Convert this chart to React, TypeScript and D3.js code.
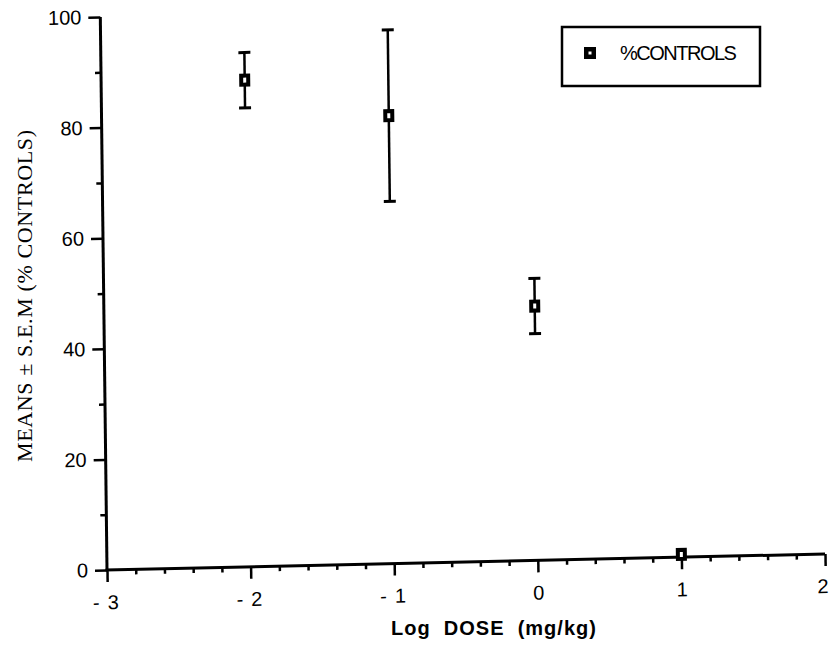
import React, { useRef, useEffect } from 'react';
import * as d3 from 'd3';

// log dose (mg/kg) and % of controls
const doses = [-2, -1, 0, 1];
const means = [88, 81, 46, 0.5];
const sems = [5, 15.5, 5, 0];

const yTicks = [0, 20, 40, 60, 80, 100];
const yMinor = [10, 30, 50, 70, 90];
const xTicks = [-3, -2, -1, 0, 1, 2];
const xTickLabels = ['-\u2009\u20093', '-\u2009\u20092', '-\u2009\u20091', '0', '1', '2'];

const seriesName = '%CONTROLS';
const xTitle = 'Log  DOSE  (mg/kg)';
const yTitle = 'MEANS \u00b1 S.E.M (% CONTROLS)';

const App = () => {
  const svgRef = useRef<SVGSVGElement | null>(null);

  useEffect(() => {
    const svg = d3.select(svgRef.current);
    svg.selectAll('*').remove();

    const data = doses.map((d, i) => ({ dose: d, mean: means[i], sem: sems[i] }));

    const plotW = 718;
    const plotH = 553;

    const x = d3.scaleLinear().domain([-3, 2]).range([0, plotW]);
    const y = d3.scaleLinear().domain([0, 100]).range([0, -plotH]);

    // the scanned page is slightly skewed, so the plot is drawn in a tilted frame
    const g = svg.append('g')
      .attr('transform', 'matrix(1, -0.0223, 0.0121, 1, 107, 570)');

    const font = 'Liberation Sans, Arial, sans-serif';

    // y axis
    const yAxis = g.append('g')
      .call(d3.axisLeft(y).tickValues(yTicks).tickSize(12).tickPadding(7).tickFormat(d3.format('d')));
    yAxis.select('.domain').remove();
    yAxis.selectAll('line').attr('stroke', '#000').attr('stroke-width', 2.5);
    yAxis.selectAll('text')
      .attr('fill', '#000')
      .style('font-family', font)
      .style('font-size', '20px');

    const yAxisMinor = g.append('g')
      .call(d3.axisLeft(y).tickValues(yMinor).tickSize(6).tickFormat(() => ''));
    yAxisMinor.select('.domain').remove();
    yAxisMinor.selectAll('line').attr('stroke', '#000').attr('stroke-width', 2.5);

    // x axis
    const xAxis = g.append('g')
      .call(d3.axisBottom(x).tickValues(xTicks).tickSize(12).tickPadding(13)
        .tickFormat((d, i) => xTickLabels[i]));
    xAxis.select('.domain').remove();
    xAxis.selectAll('line').attr('stroke', '#000').attr('stroke-width', 2.5);
    xAxis.selectAll('text')
      .attr('fill', '#000')
      .attr('dx', d => (d === 2 ? -3 : d < 0 ? -2 : 0))
      .style('font-family', font)
      .style('font-size', '20px')
      .style('white-space', 'pre');

    const xMinor = x.ticks(25).filter(t => !xTicks.includes(Math.round(t * 10) / 10));
    const xAxisMinor = g.append('g')
      .call(d3.axisBottom(x).tickValues(xMinor).tickSize(5).tickFormat(() => ''));
    xAxisMinor.select('.domain').remove();
    xAxisMinor.selectAll('line').attr('stroke', '#000').attr('stroke-width', 2.5);

    // axis lines
    g.append('line')
      .attr('x1', x(-3)).attr('x2', x(-3))
      .attr('y1', y(0)).attr('y2', y(100))
      .attr('stroke', '#000').attr('stroke-width', 3);
    g.append('line')
      .attr('x1', x(-3) - 1.5).attr('x2', x(2))
      .attr('y1', y(0)).attr('y2', y(0))
      .attr('stroke', '#000').attr('stroke-width', 3);

    // error bars
    const bars = g.selectAll('.bar')
      .data(data.filter(d => d.sem > 0))
      .enter()
      .append('g')
      .attr('class', 'bar');

    bars.append('line')
      .attr('x1', d => x(d.dose)).attr('x2', d => x(d.dose))
      .attr('y1', d => y(d.mean - d.sem)).attr('y2', d => y(d.mean + d.sem))
      .attr('stroke', '#000').attr('stroke-width', 2.5);
    bars.append('line')
      .attr('x1', d => x(d.dose) - 6).attr('x2', d => x(d.dose) + 6)
      .attr('y1', d => y(d.mean + d.sem)).attr('y2', d => y(d.mean + d.sem))
      .attr('stroke', '#000').attr('stroke-width', 3);
    bars.append('line')
      .attr('x1', d => x(d.dose) - 6).attr('x2', d => x(d.dose) + 6)
      .attr('y1', d => y(d.mean - d.sem)).attr('y2', d => y(d.mean - d.sem))
      .attr('stroke', '#000').attr('stroke-width', 3);

    // markers
    g.selectAll('.pt')
      .data(data)
      .enter()
      .append('rect')
      .attr('class', 'pt')
      .attr('x', d => x(d.dose) - 3.5)
      .attr('y', d => y(d.mean) - 4.5)
      .attr('width', 7)
      .attr('height', 9)
      .attr('fill', '#fff')
      .attr('stroke', '#000')
      .attr('stroke-width', 4);

    // axis titles
    svg.append('text')
      .attr('x', 494)
      .attr('y', 635)
      .attr('text-anchor', 'middle')
      .style('font-family', font)
      .style('font-size', '20px')
      .style('font-weight', 'bold')
      .style('letter-spacing', '1px')
      .style('white-space', 'pre')
      .text(xTitle);

    svg.append('text')
      .attr('transform', 'translate(32, 296) rotate(-90)')
      .attr('text-anchor', 'middle')
      .attr('textLength', 332)
      .attr('lengthAdjust', 'spacing')
      .style('font-family', 'Liberation Serif, Times New Roman, serif')
      .style('font-size', '22px')
      .text(yTitle);

    // legend
    const legend = svg.append('g');
    legend.append('rect')
      .attr('x', 562).attr('y', 27)
      .attr('width', 198).attr('height', 59)
      .attr('fill', 'none')
      .attr('stroke', '#000')
      .attr('stroke-width', 2.5);
    legend.append('rect')
      .attr('x', 584).attr('y', 47)
      .attr('width', 12).attr('height', 12)
      .attr('fill', '#000');
    legend.append('rect')
      .attr('x', 588.5).attr('y', 51.5)
      .attr('width', 3).attr('height', 3)
      .attr('fill', '#fff');
    legend.append('text')
      .attr('x', 620)
      .attr('y', 53)
      .attr('dy', '0.35em')
      .style('font-family', font)
      .style('font-size', '20px')
      .style('letter-spacing', '-1.5px')
      .text(seriesName);

    return () => {
      svg.selectAll('*').remove();
    };
  }, []);

  return (
    <div>
      <svg ref={svgRef} width={829} height={648}
        style={{ position: 'absolute', left: 0, top: 0, background: '#fff' }}></svg>
    </div>
  );
};

export default App;
